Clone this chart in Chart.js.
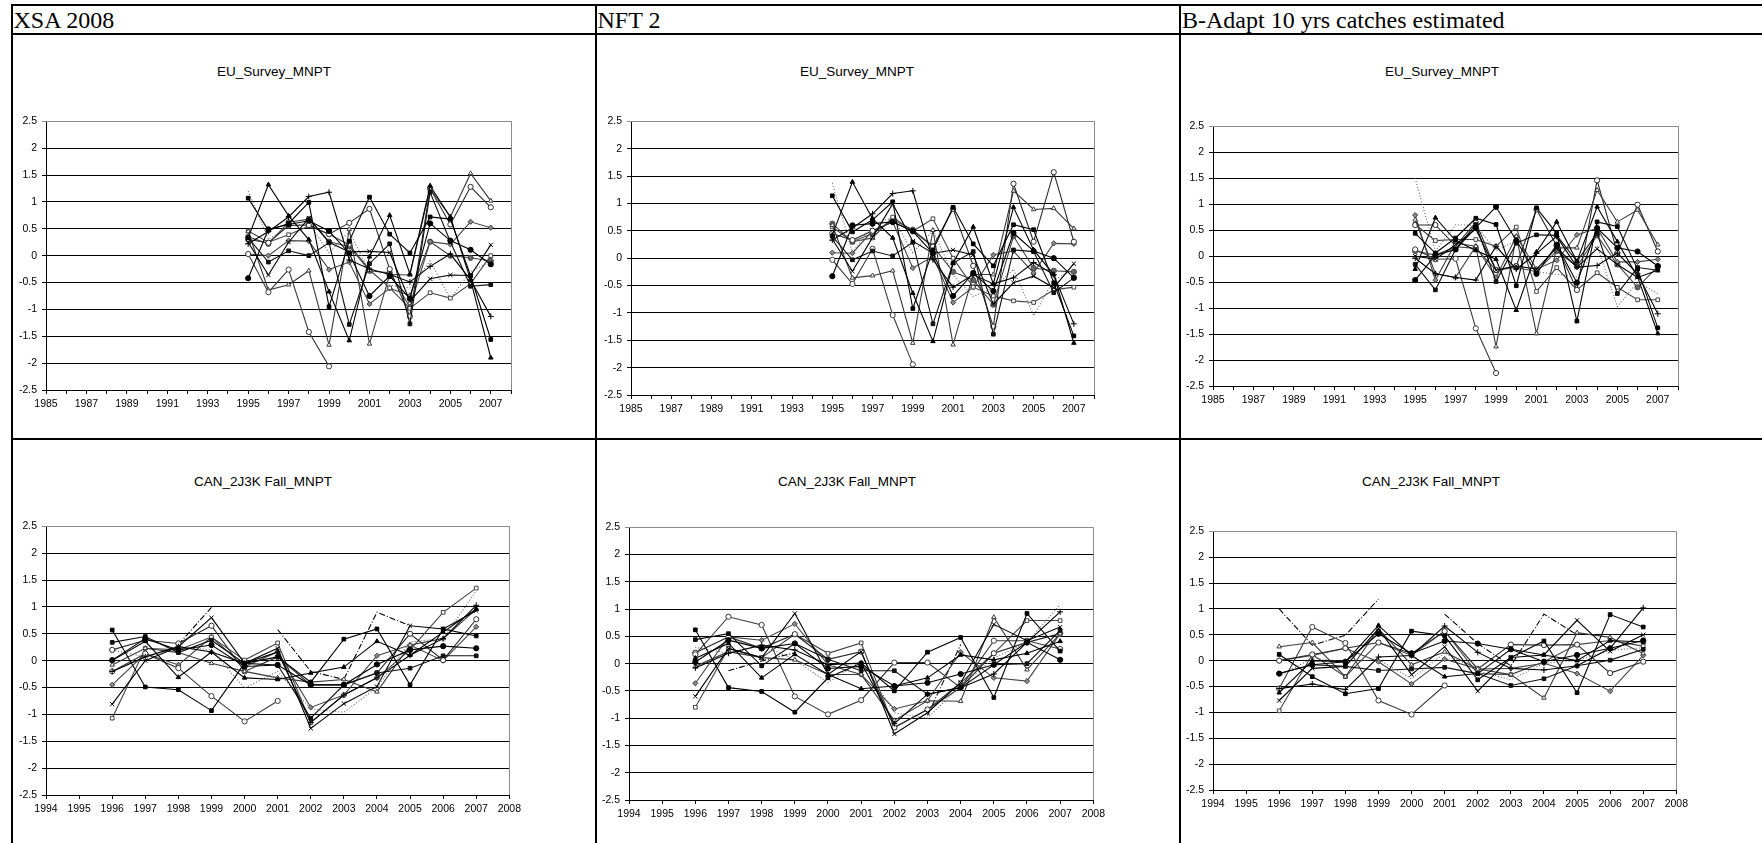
<!DOCTYPE html>
<html>
<head>
<meta charset="utf-8">
<script src="https://cdn.jsdelivr.net/npm/chart.js@4.4.1/dist/chart.umd.min.js"></script>
<style>
  html, body { margin: 0; padding: 0; background: #fff; }
  #page { position: relative; width: 1762px; height: 843px; overflow: hidden; background: #fff; }
  .rule { position: absolute; background: #000; }
  .head { position: absolute; top: 8px; font: 24px/24px "Liberation Serif", "Times New Roman", serif; color: #000; white-space: nowrap; }
  .title { position: absolute; width: 240px; text-align: center; font: 13.5px/16px "Liberation Sans", Arial, sans-serif; color: #000; white-space: nowrap; }
  canvas { position: absolute; }
</style>
</head>
<body>
<div id="page"></div>
<script>
// years on the x axis
const EU_YEARS = [1995, 1996, 1997, 1998, 1999, 2000, 2001, 2002, 2003, 2004, 2005, 2006, 2007];
const CAN_YEARS = [1996, 1997, 1998, 1999, 2000, 2001, 2002, 2003, 2004, 2005, 2006, 2007];

const HEADERS = ["XSA 2008", "NFT 2", "B-Adapt 10 yrs catches estimated"];
const TITLES = ["EU_Survey_MNPT", "CAN_2J3K Fall_MNPT"];

// residuals by age, one row per age (EU survey, 1995-2007)
const XSA_EU = [
  [1.07, 0.47, 0.6, 0.99, -0.95, 0.27, 1.09, 0.4, 0.05, 0.72, 0.68, -0.37, -1.56],
  [0.33, 1.32, 0.74, 0.3, -0.67, -1.58, -0.02, 0.75, -0.34, 1.3, 0.72, -0.45, -1.9],
  [-0.42, 0.49, 0.58, 0.65, 0.46, 0.04, -0.75, -0.38, -0.8, 0.6, 0.28, 0.11, -0.16],
  [0.22, 0.45, 0.72, 1.1, 1.18, -0.08, -0.25, -0.35, -0.49, -0.2, 0.03, -0.45, -1.13],
  [0.25, -0.36, 0.25, 0.7, 0.25, 0.07, 0.08, 0.06, -0.85, -0.43, -0.36, -0.37, 0.2],
  [0.33, -0.12, 0.09, 0.0, 0.24, -1.28, -0.15, 0.22, -1.27, 1.18, 0.26, -0.57, -0.54],
  [0.03, -0.68, -0.26, -1.42, -2.06],
  [0.45, -0.64, -0.54, -0.28, -1.66, 0.49, -1.64, -0.35, -0.36, 1.25, 0.72, 1.53, 1.02],
  [0.3, 0.24, 0.56, 0.57, 0.4, 0.61, 0.87, -0.25, -1.13, 1.25, 0.58, 1.28, 0.9],
  [0.46, 0.25, 0.39, 0.55, 0.4, 0.2, -0.26, -0.6, -0.98, -0.69, -0.79, -0.52, 0.0],
  [0.03, 0.0, 0.28, 0.27, -0.26, -0.12, -0.9, -0.61, -0.74, 0.26, 0.21, 0.63, 0.52],
  [1.2, 0.3, 0.55, 0.6, 0.05, 0.45, -0.3, -0.55, -0.6, -0.1, -0.8, -0.3, -0.1],
  [0.35, 0.22, 0.62, 0.68, 0.26, 0.17, -0.28, -0.32, -0.96, 0.26, 0.0, -0.04, -0.1]
];
const NFT_EU = [
  [1.14, 0.48, 0.7, 1.03, -0.92, 0.15, 0.93, 0.26, -0.14, 0.61, 0.52, -0.45, -1.42],
  [0.42, 1.39, 0.72, 0.37, -0.64, -1.52, -0.09, 0.57, -0.47, 0.93, 0.15, -0.3, -1.55],
  [-0.33, 0.6, 0.63, 0.66, 0.49, 0.09, -0.69, -0.27, -0.6, 0.46, 0.13, 0.0, -0.36],
  [0.33, 0.55, 0.81, 1.18, 1.23, -0.03, -0.53, -0.3, -0.47, -0.36, -0.08, -0.3, -1.2],
  [0.35, -0.24, 0.38, 0.99, 0.31, 0.09, 0.15, 0.06, -0.84, -0.45, -0.33, -0.54, -0.1],
  [0.4, -0.03, 0.13, 0.04, 0.29, -1.2, -0.09, 0.12, -1.39, 0.15, 0.12, -0.63, -0.36],
  [-0.03, -0.47, 0.17, -1.04, -1.94],
  [0.6, -0.36, -0.32, -0.23, -1.55, 0.51, -1.58, -0.3, -0.3, 1.23, 0.89, 0.91, 0.54],
  [0.45, 0.33, 0.5, 0.66, 0.5, 0.21, 0.9, -0.14, -1.25, 1.36, 0.3, 1.57, 0.3],
  [0.57, 0.3, 0.37, 0.75, 0.49, 0.72, 0.0, -0.53, -0.69, -0.78, -0.81, -0.58, -0.53],
  [0.1, 0.09, 0.5, 0.66, -0.18, 0.03, -0.81, -0.53, 0.06, 0.13, -0.27, 0.27, 0.26],
  [1.37, 0.1, 0.6, 0.75, 0.1, 0.5, -0.3, -0.7, -0.55, -0.2, -1.05, -0.4, -0.2],
  [0.63, 0.3, 0.45, 0.7, 0.52, 0.22, -0.25, -0.4, -0.85, 0.4, -0.18, -0.23, -0.25]
];
const BAD_EU = [
  [0.44, 0.06, 0.35, 0.73, 0.61, -0.57, 0.93, 0.44, -1.25, 0.66, 0.57, -0.25, -1.38],
  [-0.25, 0.74, 0.3, 0.11, -0.06, -1.04, 0.08, 0.66, -0.1, 0.95, 0.28, -0.4, -1.49],
  [-0.46, 0.02, 0.13, 0.55, 0.95, 0.3, -0.34, 0.22, -0.51, 0.54, 0.16, 0.09, -0.19],
  [-0.04, -0.34, -0.41, -0.46, 0.19, -0.25, 0.05, 0.38, -0.21, -0.18, 0.06, -0.34, -1.11],
  [0.0, -0.06, 0.22, 0.52, -0.27, -0.19, -0.25, 0.16, -0.21, 0.14, -0.16, -0.41, -0.27],
  [-0.16, -0.65, 0.13, 0.61, -0.49, 0.25, 0.41, 0.4, -0.1, 0.44, -0.72, -0.22, -0.27],
  [0.13, -0.06, -0.05, -1.39, -2.25],
  [0.7, -0.34, -0.41, 0.19, -1.74, 0.38, -1.49, 0.16, 0.16, 1.27, 0.66, 0.89, 0.22],
  [0.6, 0.6, 0.2, 0.65, -0.27, -0.19, 0.9, 0.2, -0.65, 1.46, 0.06, 0.99, 0.09],
  [0.61, 0.3, 0.32, 0.32, 0.19, 0.56, -0.68, -0.22, -0.65, -0.32, -0.6, -0.84, -0.84],
  [0.79, -0.46, 0.25, 0.19, -0.41, 0.38, -0.25, -0.08, 0.41, 0.54, -0.11, -0.11, -0.06],
  [1.5, 0.1, 0.6, 0.6, 0.1, 0.3, -0.3, -0.35, -0.4, 0.2, -0.97, -0.5, -0.72],
  [0.1, 0.02, 0.18, 0.15, -0.27, -0.22, -0.3, 0.1, -0.2, 0.4, -0.16, -0.6, -0.2]
];

// CAN 2J3K fall survey, 1996-2007
const XSA_CAN = [
  [0.57, -0.49, -0.54, -0.93, -0.05, 0.07, -0.4, 0.4, 0.59, -0.45, 0.59, 0.46],
  [0.0, 0.36, -0.31, 0.16, -0.32, -0.35, -0.23, -0.12, 0.36, 0.1, 0.53, 0.96],
  [0.01, 0.41, 0.2, 0.29, -0.11, -0.08, -0.45, -0.45, -0.07, 0.2, 0.27, 0.23],
  [-0.2, 0.07, 0.26, 0.16, -0.05, 0.16, -1.15, -0.64, -0.32, 0.1, 0.41, 1.03],
  [-0.81, 0.0, 0.26, 0.8, -0.05, 0.23, -1.26, -0.8, -0.48, 0.65, 0.59, 0.93],
  [0.34, 0.45, 0.15, 0.38, -0.05, -0.08, -1.07, -0.45, -0.23, -0.14, 0.09, 0.09],
  [-0.2, 0.13, -0.14, -0.66, -1.13, -0.75],
  [-0.08, 0.23, 0.15, -0.05, -0.2, -0.32, -0.4, -0.35, -0.58, 0.29, 0.41, 0.96],
  [0.2, 0.38, 0.32, 0.65, -0.2, 0.07, -0.45, -0.45, -0.23, 0.5, 0.01, 0.77],
  [-1.07, 0.23, 0.2, 0.44, 0.01, 0.33, -1.15, -0.64, -0.32, 0.2, 0.9, 1.35],
  [-0.45, 0.13, -0.08, 0.44, -0.11, 0.16, -0.87, -0.64, 0.09, 0.29, 0.0, 0.63],
  [0.2, 0.07, 0.26, 0.2, -0.51, -0.2, -0.9, -0.96, -0.5, 0.35, 0.41, 1.3],
  [null, null, 0.3, 0.99, null, 0.58, -0.2, -0.35, 0.9, 0.65, null, null]
];
const NFT_CAN = [
  [0.62, -0.44, -0.51, -0.89, -0.26, 0.01, -0.5, 0.21, 0.48, -0.62, 0.92, 0.23],
  [0.1, 0.37, -0.26, 0.17, -0.2, -0.46, -0.41, -0.26, 0.16, 0.07, 0.19, 0.41],
  [0.03, 0.43, 0.28, 0.37, -0.09, -0.05, -0.41, -0.35, -0.19, -0.02, 0.39, 0.07],
  [-0.08, 0.19, 0.34, 0.25, -0.02, 0.01, -1.1, -0.56, -0.44, -0.19, 0.39, 0.95],
  [-0.6, 0.28, 0.11, 0.92, -0.2, 0.22, -1.29, -0.9, -0.35, 0.72, 0.42, 0.67],
  [0.44, 0.55, -0.04, 0.37, 0.08, -0.13, -0.13, -0.56, -0.44, -0.02, 0.0, 0.61],
  [0.17, 0.86, 0.71, -0.6, -0.93, -0.67, 0.02, 0.02, -0.44, 0.42, 0.42, 0.27],
  [-0.05, 0.22, 0.11, 0.07, -0.2, -0.2, -1.04, -0.68, -0.69, 0.85, -0.11, 0.55],
  [0.2, 0.49, 0.28, 0.54, 0.08, 0.22, -1.17, -0.84, -0.44, 0.19, 0.39, 0.55],
  [-0.8, 0.28, 0.11, 0.54, 0.19, 0.38, -1.17, -0.84, -0.35, 0.19, 0.79, 0.79],
  [-0.36, 0.49, 0.43, 0.73, -0.02, -0.2, -0.83, -0.68, 0.21, -0.26, -0.32, 0.55],
  [0.3, 0.19, 0.34, 0.07, -0.35, 0.05, -0.9, -1.0, -0.4, 0.1, 0.39, 1.08],
  [null, -0.13, 0.05, 0.2, null, null, null, -0.95, 0.35, null, null, null]
];
const BAD_CAN = [
  [0.12, -0.31, -0.64, -0.54, 0.57, 0.48, -0.37, 0.06, 0.38, -0.62, 0.89, 0.65],
  [-0.62, 0.0, -0.02, 0.68, 0.1, -0.31, -0.25, 0.22, 0.11, 0.0, 0.39, 0.36],
  [-0.25, -0.08, -0.02, 0.52, 0.14, 0.38, 0.33, 0.22, -0.02, 0.11, 0.24, 0.39],
  [-0.54, -0.45, -0.56, 0.07, 0.1, 0.67, 0.16, -0.15, -0.18, -0.1, 0.24, 1.02],
  [-0.77, -0.15, -0.11, 0.62, -0.27, 0.27, -0.59, 0.06, 0.11, 0.78, 0.18, 0.5],
  [-0.25, -0.08, -0.11, -0.19, -0.16, -0.13, -0.25, -0.48, -0.35, -0.1, 0.01, 0.22],
  [-0.54, 0.65, 0.34, -0.77, -1.04, -0.48],
  [0.27, 0.35, -0.31, 0.62, -0.08, 0.17, -0.16, -0.27, -0.72, 0.54, 0.45, 0.14],
  [0.0, 0.12, 0.24, 0.35, 0.14, 0.57, -0.16, 0.31, 0.3, 0.31, -0.24, -0.02],
  [-0.97, 0.12, -0.31, 0.35, 0.1, 0.57, -0.25, -0.27, -0.02, 0.31, 0.39, 0.28],
  [0.0, 0.1, 0.24, -0.02, -0.45, 0.03, -0.16, -0.15, -0.05, -0.25, -0.59, 0.1],
  [-0.3, 0.05, -0.02, 0.02, -0.35, 0.15, -0.2, -0.37, -0.05, 0.0, 0.2, 0.25],
  [1.0, 0.3, 0.49, 1.19, null, 0.9, 0.33, -0.1, 0.9, 0.5, null, null]
];

// marker / line style per age row
const STYLES = [
  { ps: "rect", bg: "#000", fg: "#000" },
  { ps: "triangle", bg: "#000", fg: "#000" },
  { ps: "circle", bg: "#000", fg: "#000" },
  { ps: "cross", bg: "#000", fg: "#000" },
  { ps: "crossRot", bg: "#000", fg: "#000" },
  { ps: "rect", bg: "#111", fg: "#111" },
  { ps: "circle", bg: "#fff", fg: "#3a3a3a" },
  { ps: "triangle", bg: "#fff", fg: "#3a3a3a" },
  { ps: "circle", bg: "#fff", fg: "#2a2a2a" },
  { ps: "rect", bg: "#fff", fg: "#444" },
  { ps: "rectRot", bg: "#888", fg: "#444" },
  { ps: false, fg: "#666", dash: [1, 2] },
  { ps: "circle", bg: "#666", fg: "#444" }
];
const DASHDOT = { ps: false, fg: "#000", dash: [6, 2, 1, 2] };

const page = document.getElementById("page");

function rule(x, y, w, h) {
  const d = document.createElement("div");
  d.className = "rule";
  Object.assign(d.style, { left: x + "px", top: y + "px", width: w + "px", height: h + "px" });
  page.appendChild(d);
}

// table lines
rule(11, 4, 1751, 2);
rule(11, 33, 1751, 2);
rule(11, 438, 1751, 2);
rule(11, 4, 2, 839);
rule(595, 4, 2, 839);
rule(1179, 4, 2, 839);

[13.5, 597.5, 1182].forEach((x, i) => {
  const d = document.createElement("div");
  d.className = "head";
  d.style.left = x + "px";
  d.textContent = HEADERS[i];
  page.appendChild(d);
});

// plot area in page pixels: left, top, right, bottom
const PANELS = [
  { rows: XSA_EU, years: EU_YEARS, box: [46, 118, 511, 390], title: 0, tx: 274, ty: 64 },
  { rows: NFT_EU, years: EU_YEARS, box: [631, 118, 1094, 395], title: 0, tx: 857, ty: 64 },
  { rows: BAD_EU, years: EU_YEARS, box: [1213, 123, 1678, 386], title: 0, tx: 1442, ty: 64 },
  { rows: XSA_CAN, years: CAN_YEARS, box: [46, 523, 511, 795], title: 1, tx: 263, ty: 474 },
  { rows: NFT_CAN, years: CAN_YEARS, box: [629, 524, 1095, 800], title: 1, tx: 847, ty: 474 },
  { rows: BAD_CAN, years: CAN_YEARS, box: [1213, 528, 1678, 790], title: 1, tx: 1431, ty: 474 }
];

const plotBorder = {
  id: "plotBorder",
  beforeDatasetsDraw(chart) {
    const a = chart.chartArea, c = chart.ctx;
    c.save();
    c.strokeStyle = "#8c8c8c";
    c.lineWidth = 1;
    c.beginPath();
    c.moveTo(a.left, Math.round(a.top) + 0.5);
    c.lineTo(Math.round(a.right) + 0.5, Math.round(a.top) + 0.5);
    c.lineTo(Math.round(a.right) + 0.5, a.bottom);
    c.stroke();
    c.restore();
  }
};

const FONT = { family: "'Liberation Sans', Arial, sans-serif", size: 10.5 };
const PAD_L = 44, PAD_T = 8, PAD_R = 14, PAD_B = 30;

PANELS.forEach((p) => {
  const [L, T, R, B] = p.box;
  const t = document.createElement("div");
  t.className = "title";
  t.style.left = (p.tx - 120) + "px";
  t.style.top = p.ty + "px";
  t.textContent = TITLES[p.title];
  page.appendChild(t);

  const cv = document.createElement("canvas");
  cv.width = R - L + PAD_L + PAD_R;
  cv.height = B - T + PAD_T + PAD_B;
  cv.style.left = (L - PAD_L) + "px";
  cv.style.top = (T - PAD_T) + "px";
  page.appendChild(cv);

  const isEU = p.title === 0;
  const datasets = p.rows.map((row, i) => {
    const s = (!isEU && i === 12) ? DASHDOT : STYLES[i];
    const isCross = s.ps === "cross" || s.ps === "crossRot";
    return {
      data: row.map((v, j) => ({ x: p.years[j], y: v })),
      borderColor: s.fg,
      borderWidth: 1.1,
      borderDash: s.dash || [],
      pointStyle: s.ps,
      pointRadius: s.ps ? (isCross ? 3 : 2.6) : 0,
      pointBorderWidth: 1,
      pointBorderColor: s.fg,
      pointBackgroundColor: s.bg || s.fg,
      fill: false,
      tension: 0,
      spanGaps: false
    };
  });

  new Chart(cv, {
    type: "line",
    data: { datasets },
    options: {
      responsive: false,
      animation: false,
      events: [],
      layout: { padding: { left: 0, top: PAD_T, right: PAD_R, bottom: 0 } },
      plugins: { legend: { display: false }, tooltip: { enabled: false } },
      scales: {
        x: {
          type: "linear",
          min: isEU ? 1985 : 1994,
          max: 2008,
          afterFit: (s) => { s.height = PAD_B; },
          grid: { drawOnChartArea: false, drawTicks: true, tickLength: 4, color: "#000" },
          border: { display: true, color: "#000", width: 1 },
          ticks: {
            stepSize: 1,
            autoSkip: false,
            maxRotation: 0,
            minRotation: 0,
            padding: 4,
            color: "#000",
            font: FONT,
            callback: (v) => (isEU ? (v % 2 === 1 ? String(v) : "") : String(v))
          }
        },
        y: {
          min: -2.5,
          max: 2.5,
          afterFit: (s) => { s.width = PAD_L; },
          grid: {
            drawTicks: true,
            tickLength: 4,
            color: (ctx) => (ctx.tick && ctx.tick.value === 2.5 ? "#8c8c8c" : "#000")
          },
          border: { display: true, color: "#000", width: 1 },
          ticks: { stepSize: 0.5, padding: 5, color: "#000", font: FONT, callback: (v) => String(v) }
        }
      }
    },
    plugins: [plotBorder]
  });
});
</script>
</body>
</html>
